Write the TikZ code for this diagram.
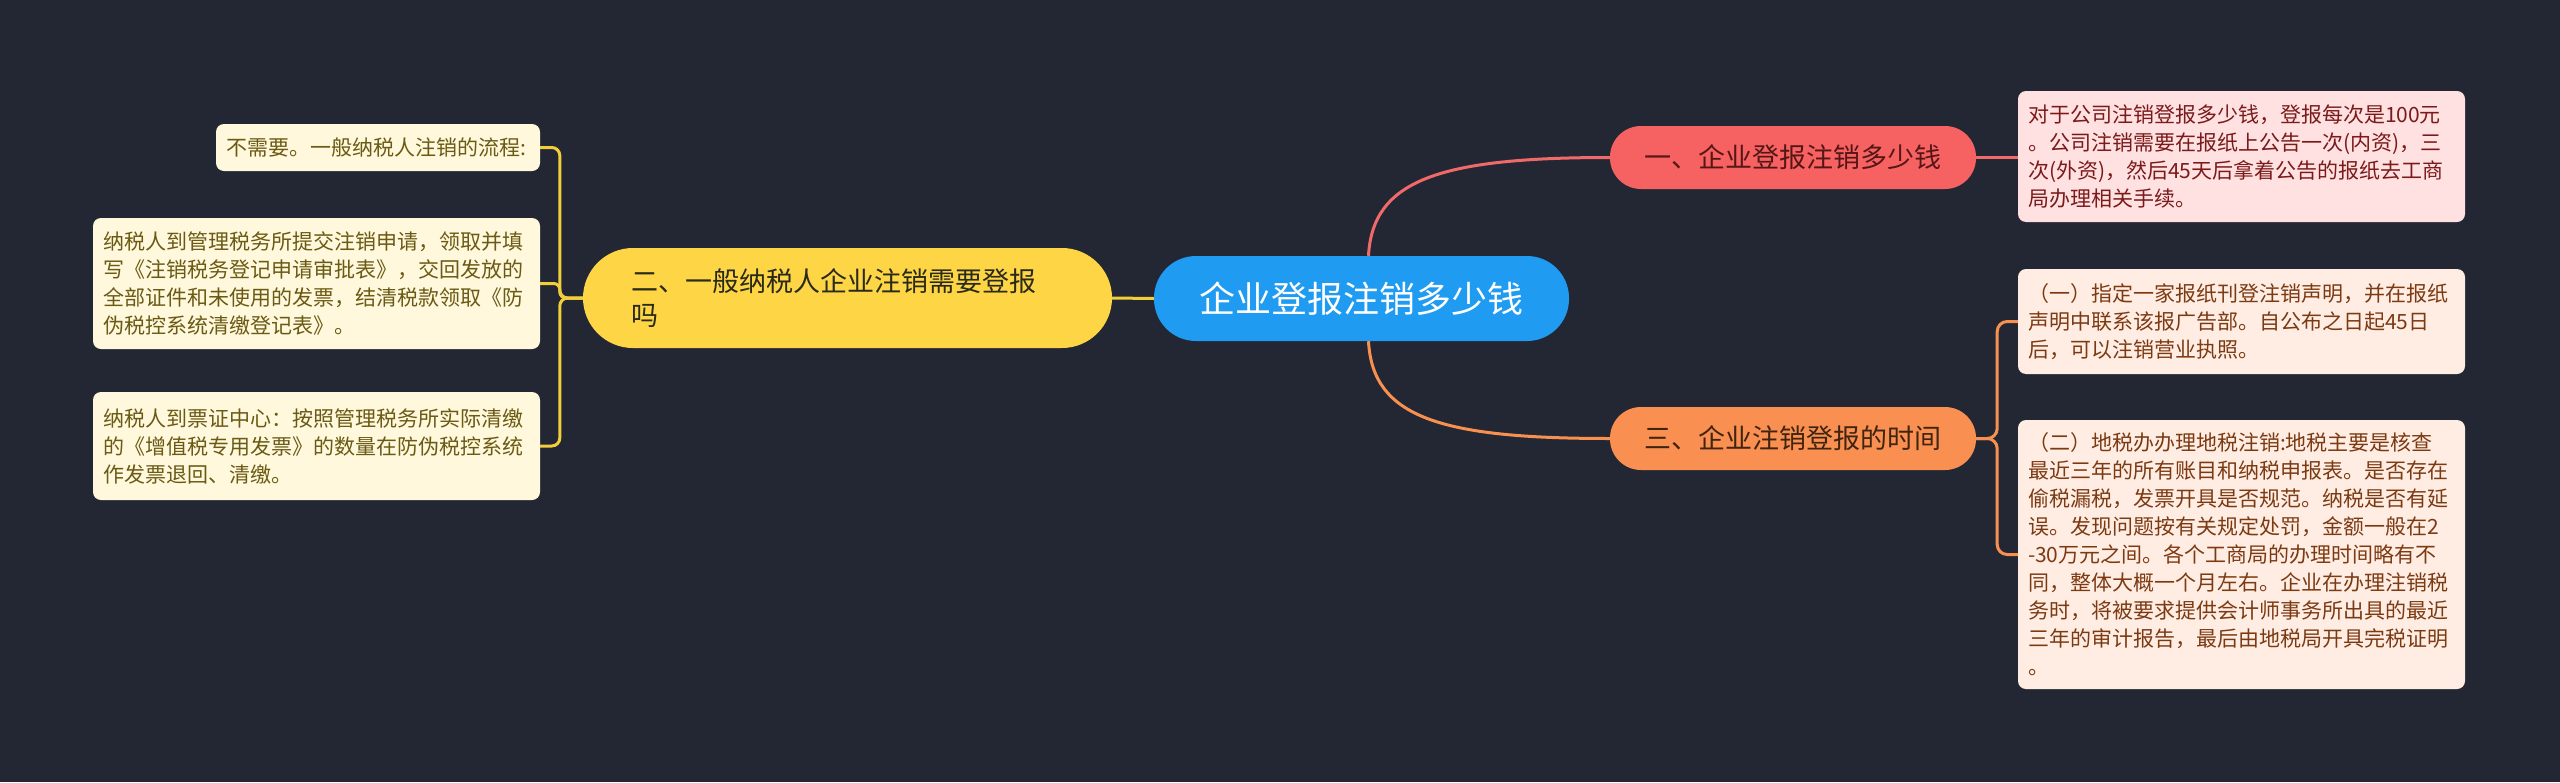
\documentclass[tikz,border=0pt]{standalone}
\usepackage{fontspec}
\newfontfamily\cjk{Noto Sans CJK SC}
\usetikzlibrary{calc}
\definecolor{bg}{HTML}{232733}
\definecolor{cblue}{HTML}{1F9BF1}
\definecolor{cyellow}{HTML}{FDD545}
\definecolor{cred}{HTML}{F66262}
\definecolor{corange}{HTML}{F98F50}
\definecolor{redfill}{HTML}{FFE1E1}
\definecolor{redtext}{HTML}{7B1A1A}
\definecolor{orfill}{HTML}{FFEDE3}
\definecolor{ortext}{HTML}{7C3A12}
\definecolor{yfill}{HTML}{FFF8DC}
\definecolor{ytext}{HTML}{6A5A14}
\definecolor{rnodetext}{HTML}{561616}
\definecolor{onodetext}{HTML}{3F2410}
\definecolor{ynodetext}{HTML}{2A2A1A}
\definecolor{redline}{HTML}{F06A6A}
\definecolor{orline}{HTML}{F8914F}
\definecolor{yline}{HTML}{F2CD3C}
\begin{document}
\begin{tikzpicture}[x=1pt,y=-1pt,
  rootnode/.style={fill=cblue, rounded corners=42pt, minimum width=415pt, minimum height=85pt,
    text=white, inner sep=0pt, font=\cjk\fontsize{36}{40}\selectfont},
  branchnode/.style={rounded corners=31pt, minimum width=366pt, minimum height=63pt,
    inner sep=0pt, font=\cjk\fontsize{27}{32}\selectfont},
  yellownode/.style={fill=cyellow, text=ynodetext, rounded corners=50pt, minimum width=529pt,
    minimum height=100pt, inner xsep=48pt, inner ysep=0pt, text width=433pt, align=left,
    font=\cjk\fontsize{27}{34}\selectfont},
  leaf/.style={rounded corners=8pt, text width=427pt, align=left, inner xsep=10pt,
    inner ysep=0pt, font=\cjk\fontsize{21}{28}\selectfont},
  conn/.style={line width=3pt},
]
\useasboundingbox[fill=bg] (0,0) rectangle (2560,782);

% nodes
\node[rootnode] (root) at (1361.5,298.5) {企业登报注销多少钱};
\node[yellownode] (yel) at (847.5,298) {二、一般纳税人企业注销需要登报\\吗};
\node[branchnode, fill=cred, text=rnodetext] (red) at (1793,157.5) {一、企业登报注销多少钱};
\node[branchnode, fill=corange, text=onodetext] (ora) at (1793,438.5) {三、企业注销登报的时间};

\node[leaf, fill=redfill, text=redtext, minimum height=131pt] (rb) at (2241.5,156.5)
  {对于公司注销登报多少钱，登报每次是100元\\。公司注销需要在报纸上公告一次(内资)，三\\次(外资)，然后45天后拿着公告的报纸去工商\\局办理相关手续。};
\node[leaf, fill=orfill, text=ortext, minimum height=105pt] (ob1) at (2241.5,321.5)
  {（一）指定一家报纸刊登注销声明，并在报纸\\声明中联系该报广告部。自公布之日起45日\\后，可以注销营业执照。};
\node[leaf, fill=orfill, text=ortext, minimum height=269pt] (ob2) at (2241.5,554.5)
  {（二）地税办办理地税注销:地税主要是核查\\最近三年的所有账目和纳税申报表。是否存在\\偷税漏税，发票开具是否规范。纳税是否有延\\误。发现问题按有关规定处罚，金额一般在2\\-30万元之间。各个工商局的办理时间略有不\\同，整体大概一个月左右。企业在办理注销税\\务时，将被要求提供会计师事务所出具的最近\\三年的审计报告，最后由地税局开具完税证明\\。};

\node[leaf, fill=yfill, text=ytext, text width=304pt, minimum height=47pt] (lb1) at (378,147.5)
  {不需要。一般纳税人注销的流程:};
\node[leaf, fill=yfill, text=ytext, minimum height=131pt] (lb2) at (316.5,283.5)
  {纳税人到管理税务所提交注销申请，领取并填\\写《注销税务登记申请审批表》，交回发放的\\全部证件和未使用的发票，结清税款领取《防\\伪税控系统清缴登记表》。};
\node[leaf, fill=yfill, text=ytext, minimum height=108pt] (lb3) at (316.5,446)
  {纳税人到票证中心：按照管理税务所实际清缴\\的《增值税专用发票》的数量在防伪税控系统\\作发票退回、清缴。};

% connectors
\draw[conn, draw=redline] ($(root.north)+(7,0)$) .. controls +(4,-76) and +(-170,0) .. (red.west);
\draw[conn, draw=orline] ($(root.south)+(7,0)$) .. controls +(4,76) and +(-170,0) .. (ora.west);
\draw[conn, draw=yline] (root.west) -- (yel.east);
\draw[conn, draw=redline] (red.east) -- (red.east -| rb.west);
\draw[conn, draw=orline, rounded corners=10pt] (ora.east) -- ++(21,0) |- (ob1.west);
\draw[conn, draw=orline, rounded corners=10pt] (ora.east) -- ++(21,0) |- (ob2.west);
\draw[conn, draw=yline, rounded corners=8pt] (yel.west) -- ++(-23,0) |- (lb1.east);
\draw[conn, draw=yline, rounded corners=6pt] (yel.west) -- ++(-23,0) |- (lb2.east);
\draw[conn, draw=yline, rounded corners=8pt] (yel.west) -- ++(-23,0) |- (lb3.east);
\end{tikzpicture}
\end{document}
